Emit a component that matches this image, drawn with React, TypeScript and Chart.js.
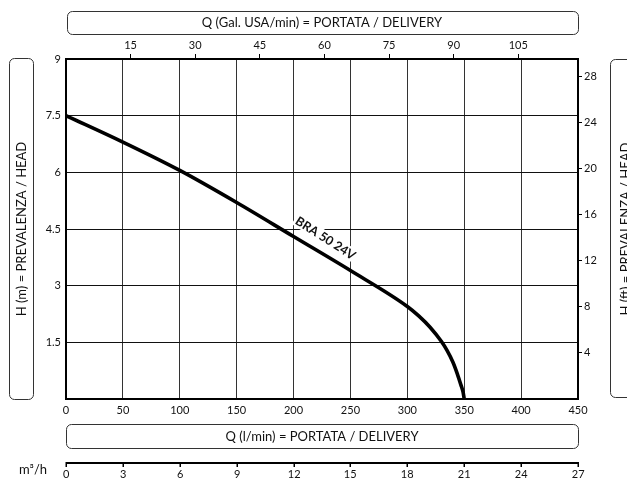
import React, { useEffect, useRef } from "react";
import { Chart, registerables } from "chart.js";

Chart.register(...registerables);

// ---- data ----
const flowLpm = [0, 50, 100, 150, 200, 250, 300, 310, 320, 330, 335, 340, 344, 347, 349, 350];
const headM = [7.5, 6.8, 6.05, 5.2, 4.3, 3.4, 2.45, 2.2, 1.9, 1.52, 1.28, 0.98, 0.66, 0.38, 0.18, 0];
const xTicksLpm = [0, 50, 100, 150, 200, 250, 300, 350, 400, 450];
const yTicksM = [0, 1.5, 3, 4.5, 6, 7.5, 9];
const topTicksGal = [15, 30, 45, 60, 75, 90, 105];
const rightTicksFt = [4, 8, 12, 16, 20, 24, 28];
const m3hTicks = [0, 3, 6, 9, 12, 15, 18, 21, 24, 27];
const curveName = "BRA 50 24V";
const labelQ = 228;
const labelH = 4.25;

const topTitle = "Q (Gal. USA/min) = PORTATA / DELIVERY";
const bottomTitle = "Q (l/min) = PORTATA / DELIVERY";
const leftTitle = "H (m) = PREVALENZA / HEAD";
const rightTitle = "H (ft) = PREVALENZA / HEAD";
const m3hUnit = "m³/h";

const GAL = 3.785411784;
const FT = 0.3048;
const FONT = "Lato, 'DejaVu Sans', sans-serif";
const INK = "#111";

function roundBox(ctx: CanvasRenderingContext2D, x: number, y: number, w: number, h: number, r: number) {
  ctx.beginPath();
  ctx.roundRect(x, y, w, h, r);
  ctx.lineWidth = 1;
  ctx.strokeStyle = "#333";
  ctx.stroke();
}

const deco = {
  id: "deco",
  beforeDatasetsDraw(chart: any) {
    const ctx: CanvasRenderingContext2D = chart.ctx;
    const xs = chart.scales.x;
    const ys = chart.scales.y;
    const px = xs.getPixelForValue(labelQ);
    const py = ys.getPixelForValue(labelH);
    const x1 = xs.getPixelForValue(200), y1 = ys.getPixelForValue(4.3);
    const x2 = xs.getPixelForValue(250), y2 = ys.getPixelForValue(3.4);
    const ang = Math.atan2(y2 - y1, x2 - x1) + 0.03;
    ctx.save();
    ctx.translate(px, py);
    ctx.rotate(ang);
    ctx.font = `bold 12.5px ${FONT}`;
    const w = ctx.measureText(curveName).width;
    ctx.fillStyle = "#fff";
    ctx.fillRect(-w / 2 - 2, -7, w + 4, 13);
    ctx.fillStyle = INK;
    ctx.textAlign = "center";
    ctx.textBaseline = "middle";
    ctx.fillText(curveName, 0, 0);
    ctx.restore();
  },
  afterDraw(chart: any) {
    const ctx: CanvasRenderingContext2D = chart.ctx;
    const ca = chart.chartArea;
    const xs = chart.scales.x;
    ctx.save();
    roundBox(ctx, ca.left + 1.5, 11.5, ca.right - ca.left - 1, 23, 5);
    roundBox(ctx, ca.left + 0.5, 424.5, ca.right - ca.left, 24, 5);
    roundBox(ctx, 9.5, ca.top - 0.5, 24, ca.bottom - ca.top + 1, 5);
    roundBox(ctx, 610.5, ca.top + 0.5, 40, ca.bottom - ca.top - 2, 5);

    ctx.fillStyle = INK;
    ctx.font = `13px ${FONT}`;
    ctx.textAlign = "center";
    ctx.textBaseline = "middle";
    const cx = (ca.left + ca.right) / 2;
    ctx.fillText(topTitle, cx, 23);
    ctx.fillText(bottomTitle, cx, 437);
    const cy = (ca.top + ca.bottom) / 2;
    ctx.save();
    ctx.translate(21.5, cy);
    ctx.rotate(-Math.PI / 2);
    ctx.fillText(leftTitle, 0, 0);
    ctx.restore();
    ctx.save();
    ctx.translate(626, cy);
    ctx.rotate(-Math.PI / 2);
    ctx.fillText(rightTitle, 0, 0);
    ctx.restore();

    // m3/h axis
    const ly = 463;
    ctx.strokeStyle = "#000";
    ctx.lineWidth = 2;
    ctx.beginPath();
    ctx.moveTo(xs.getPixelForValue(0), ly);
    ctx.lineTo(xs.getPixelForValue(450), ly);
    ctx.stroke();
    ctx.lineWidth = 1.5;
    ctx.font = `11px ${FONT}`;
    m3hTicks.forEach((v) => {
      const x = Math.round(xs.getPixelForValue((v * 1000) / 60)) + 0.25;
      ctx.beginPath();
      ctx.moveTo(x, ly - 1);
      ctx.lineTo(x, ly + 4);
      ctx.stroke();
      ctx.fillText(String(v), x, 474);
    });
    ctx.font = `13px ${FONT}`;
    ctx.fillText(m3hUnit, 33, 470);
    ctx.restore();
  },
};

const tickFont = { family: FONT, size: 11 };
const fmt = (v: any) => String(v);

export default function App() {
  const ref = useRef<HTMLCanvasElement>(null);
  useEffect(() => {
    if (!ref.current) return;
    const chart = new Chart(ref.current, {
      type: "scatter",
      data: {
        datasets: [
          {
            data: flowLpm.map((q, i) => ({ x: q, y: headM[i] })),
            showLine: true,
            borderColor: "#000",
            borderWidth: 3.6,
            pointRadius: 0,
            cubicInterpolationMode: "monotone",
            xAxisID: "x",
            yAxisID: "y",
          } as any,
        ],
      },
      options: {
        animation: false,
        responsive: false,
        devicePixelRatio: 1,
        layout: { padding: 0 },
        plugins: { legend: { display: false }, tooltip: { enabled: false } },
        scales: {
          x: {
            type: "linear",
            position: "bottom",
            min: 0,
            max: 450,
            afterBuildTicks: (s: any) => {
              s.ticks = xTicksLpm.map((v) => ({ value: v }));
            },
            afterFit: (s: any) => {
              s.height = 80;
            },
            grid: { color: "#333", lineWidth: 1, drawTicks: false },
            border: { display: true, color: "#000", width: 2 },
            ticks: { padding: 5, color: INK, font: tickFont, maxRotation: 0, autoSkip: false, callback: fmt },
          },
          x2: {
            type: "linear",
            position: "top",
            min: 0,
            max: 450 / GAL,
            afterBuildTicks: (s: any) => {
              s.ticks = topTicksGal.map((v) => ({ value: v }));
            },
            afterFit: (s: any) => {
              s.height = 59;
            },
            grid: { drawOnChartArea: false, drawTicks: true, tickLength: 5, color: "#000", lineWidth: 1 },
            border: { display: true, color: "#000", width: 2 },
            ticks: { padding: 2, color: INK, font: tickFont, maxRotation: 0, autoSkip: false, callback: fmt },
          },
          y: {
            type: "linear",
            position: "left",
            min: 0,
            max: 9,
            afterBuildTicks: (s: any) => {
              s.ticks = yTicksM.map((v) => ({ value: v }));
            },
            afterFit: (s: any) => {
              s.width = 66;
            },
            grid: { color: "#111", lineWidth: 1, drawTicks: false },
            border: { display: true, color: "#000", width: 2 },
            ticks: {
              padding: 5,
              color: INK,
              font: tickFont,
              autoSkip: false,
              callback: (v: any) => (v === 0 ? "" : String(v)),
            },
          },
          y2: {
            type: "linear",
            position: "right",
            min: 0,
            max: 9 / FT,
            afterBuildTicks: (s: any) => {
              s.ticks = rightTicksFt.map((v) => ({ value: v }));
            },
            afterFit: (s: any) => {
              s.width = 49;
            },
            grid: { drawOnChartArea: false, drawTicks: true, tickLength: 4, color: "#000", lineWidth: 1 },
            border: { display: true, color: "#000", width: 2 },
            ticks: { padding: 2, color: INK, font: tickFont, autoSkip: false, callback: fmt },
          },
        },
      },
      plugins: [deco as any],
    });
    return () => chart.destroy();
  }, []);
  return (
    <div style={{ position: "fixed", left: 0, top: 0, width: 627, height: 479, background: "#fff" }}>
      <canvas ref={ref} width={627} height={479} style={{ display: "block", width: 627, height: 479 }} />
    </div>
  );
}
